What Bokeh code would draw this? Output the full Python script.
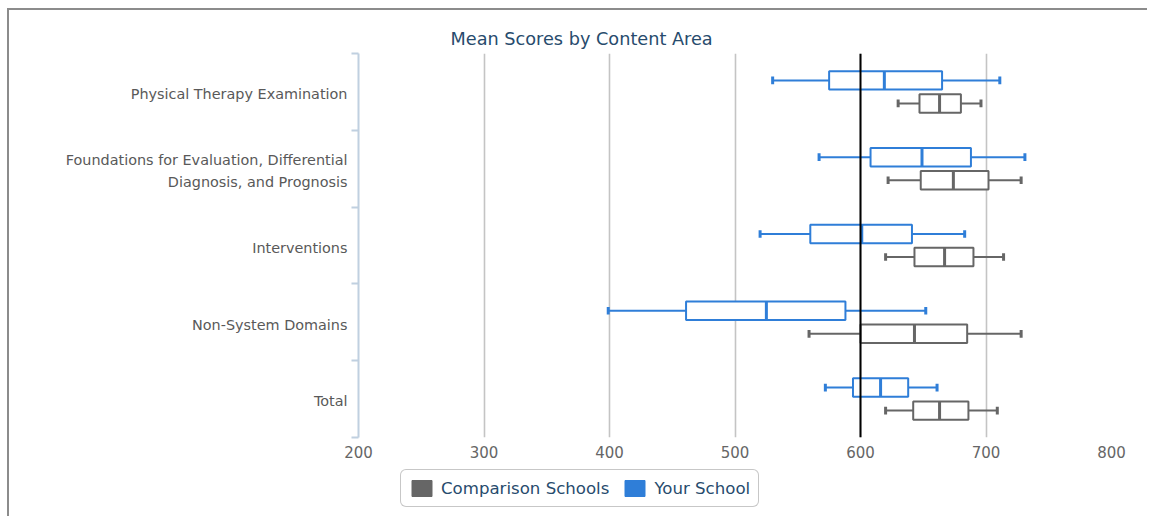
from bokeh.plotting import figure
from bokeh.layouts import column
from bokeh.models import (Range1d, FixedTicker, Legend, LegendItem, Span, ColumnDataSource)
from bokeh.embed import file_html
from bokeh.resources import INLINE

categories = ["Physical Therapy Examination",
              "Foundations for Evaluation, Differential\nDiagnosis, and Prognosis",
              "Interventions", "Non-System Domains", "Total"]
your_low = [530, 567, 520, 399, 572]
your_q1 = [575, 608, 560, 461, 594]
your_med = [619, 649, 601, 525, 616]
your_q3 = [665, 688, 641, 588, 638]
your_high = [711, 731, 683, 652, 661]
comp_low = [630, 622, 620, 559, 620]
comp_q1 = [647, 648, 643, 600, 642]
comp_med = [663, 674, 667, 643, 663]
comp_q3 = [680, 702, 690, 685, 686]
comp_high = [696, 728, 714, 728, 709]
benchmark = 600
x_ticks = [200, 300, 400, 500, 600, 700, 800]
series_names = ["Comparison Schools", "Your School"]

BLUE = "#2f7ed8"
GRAY = "#666666"
FONT = "DejaVu Sans"

n = len(categories)
centers = [n - i - 0.5 for i in range(n)]
label_pos = [c - 0.03 for c in centers]  # slight downward nudge of the category labels

p = figure(width=1138, height=456, output_backend="svg", toolbar_location=None,
           x_range=Range1d(200, 800), y_range=Range1d(0, n),
           min_border_left=349, min_border_right=36, min_border_top=43, min_border_bottom=29)
p.outline_line_color = None
p.background_fill_color = "white"
p.border_fill_color = "white"

p.title.text = "Mean Scores by Content Area"
p.title.text_font = FONT
p.title.text_font_size = "17.7px"
p.title.text_font_style = "normal"
p.title.text_color = "#274b6d"
p.title.align = "left"
p.title.offset = 92

# grid
p.ygrid.grid_line_color = None
p.xgrid.ticker = FixedTicker(ticks=x_ticks)
p.xgrid.grid_line_color = "#c4c4c4"
p.xgrid.grid_line_width = 1.6

# x axis
p.xaxis.ticker = FixedTicker(ticks=x_ticks)
p.xaxis.axis_line_color = None
p.xaxis.major_tick_line_color = None
p.xaxis.minor_tick_line_color = None
p.xaxis.major_tick_out = 0
p.xaxis.major_label_standoff = 8
p.xaxis.major_label_text_font = FONT
p.xaxis.major_label_text_font_size = "15px"
p.xaxis.major_label_text_color = GRAY

# y axis
p.yaxis.ticker = FixedTicker(ticks=label_pos, minor_ticks=list(range(n + 1)))
p.yaxis.major_label_overrides = {c: categories[i] for i, c in enumerate(label_pos)}
p.yaxis.axis_line_color = "#c0d0e0"
p.yaxis.axis_line_width = 2
p.yaxis.major_tick_line_color = None
p.yaxis.major_tick_out = 0
p.yaxis.major_tick_in = 0
p.yaxis.minor_tick_line_color = "#c0d0e0"
p.yaxis.minor_tick_line_width = 2
p.yaxis.minor_tick_out = 7
p.yaxis.minor_tick_in = 0
p.yaxis.major_label_standoff = 4
p.yaxis.major_label_text_font = FONT
p.yaxis.major_label_text_font_size = "14.4px"
p.yaxis.major_label_text_line_height = 1.4
p.yaxis.major_label_text_color = "#595959"

off = 0.15
box_h = 0.24
cap_h = 0.1


def draw(low, q1, med, q3, high, offset, color):
    ys = [c + offset for c in centers]
    src = ColumnDataSource(dict(y=ys, low=low, q1=q1, med=med, q3=q3, high=high,
                                ylo=[y - box_h / 2 for y in ys], yhi=[y + box_h / 2 for y in ys],
                                clo=[y - cap_h / 2 for y in ys], chi=[y + cap_h / 2 for y in ys]))
    p.segment(x0="low", x1="q1", y0="y", y1="y", source=src, line_color=color, line_width=2)
    p.segment(x0="q3", x1="high", y0="y", y1="y", source=src, line_color=color, line_width=2)
    p.segment(x0="low", x1="low", y0="clo", y1="chi", source=src, line_color=color, line_width=3)
    p.segment(x0="high", x1="high", y0="clo", y1="chi", source=src, line_color=color, line_width=3)
    p.hbar(y="y", left="q1", right="q3", height=box_h, source=src,
           fill_color="white", line_color=color, line_width=2)
    p.segment(x0="med", x1="med", y0="ylo", y1="yhi", source=src, line_color=color, line_width=3)


draw(your_low, your_q1, your_med, your_q3, your_high, off, BLUE)
draw(comp_low, comp_q1, comp_med, comp_q3, comp_high, -off, GRAY)

p.add_layout(Span(location=benchmark, dimension="height", line_color="black", line_width=2))

# legend strip below the chart
p2 = figure(width=1138, height=50, output_backend="svg", toolbar_location=None,
            x_range=Range1d(0, 1), y_range=Range1d(0, 1),
            x_axis_type=None, y_axis_type=None,
            min_border_left=0, min_border_right=0, min_border_top=0, min_border_bottom=0)
p2.outline_line_color = None
p2.grid.grid_line_color = None
p2.border_fill_color = "white"

nan = float("nan")
r_comp = p2.hbar(y="y", left="left", right="right", height=0.2,
                 source=ColumnDataSource(dict(y=[nan], left=[nan], right=[nan])),
                 fill_color=GRAY, line_color=GRAY)
r_your = p2.hbar(y="y", left="left", right="right", height=0.2,
                 source=ColumnDataSource(dict(y=[nan], left=[nan], right=[nan])),
                 fill_color=BLUE, line_color=BLUE)
legend = Legend(items=[LegendItem(label=series_names[0], renderers=[r_comp]),
                       LegendItem(label=series_names[1], renderers=[r_your])],
                orientation="horizontal", location=(42, 9),
                glyph_width=25, glyph_height=20, label_standoff=7, spacing=13,
                padding=8, margin=0,
                label_text_font=FONT, label_text_font_size="16.6px", label_text_color="#274b6d",
                border_line_color="#909090", border_line_width=1.5,
                background_fill_color="white", background_fill_alpha=1)
if "border_radius" in Legend.properties():
    legend.border_radius = 6
p2.add_layout(legend, "center")

layout = column(p, p2, spacing=0,
                styles={"margin-left": "7px", "margin-top": "8px",
                        "border-left": "2px solid #8c8c8c", "border-top": "2px solid #8c8c8c"})

open("out.html", "w").write(file_html(layout, INLINE))
